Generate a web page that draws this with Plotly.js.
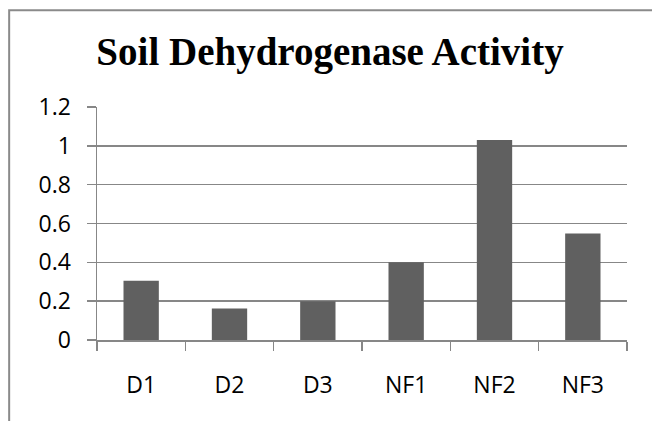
<!DOCTYPE html>
<html>
<head>
<meta charset="utf-8">
<script src="https://cdn.plot.ly/plotly-3.0.1.min.js"></script>
<style>
html,body{margin:0;padding:0;background:#fff;}
#chart{width:652px;height:421px;}
</style>
</head>
<body>
<div id="chart"></div>
<script>
var categories = ["D1", "D2", "D3", "NF1", "NF2", "NF3"];
var activity = [0.305, 0.162, 0.2, 0.4, 1.03, 0.548];
var yTicks = [0, 0.2, 0.4, 0.6, 0.8, 1, 1.2];
var chartTitle = "Soil Dehydrogenase Activity";

var L = 96.5, R = 627.5, T = 107, B = 340.5, W = 652, H = 421;
var pw = R - L, ph = B - T;
function px(x){ return (x - L) / pw; }
function py(y){ return (B - y) / ph; }

var gray = "#878787";
var tickFont = {family: "Open Sans, sans-serif", size: 23, color: "#000"};

Plotly.newPlot("chart", [{
  type: "bar",
  x: categories,
  y: activity,
  marker: {color: "#606060", line: {width: 0}},
  hoverinfo: "skip"
}], {
  width: W, height: H,
  margin: {l: L, r: W - R, t: T, b: H - B, pad: 0},
  paper_bgcolor: "#fff", plot_bgcolor: "#fff",
  showlegend: false,
  bargap: 0.6,
  title: {
    text: "<b>" + chartTitle + "</b>",
    font: {family: "Liberation Serif, serif", size: 39, color: "#000"},
    x: 330 / W, xanchor: "center", xref: "container",
    y: 1 - 51 / H, yanchor: "middle", yref: "container"
  },
  xaxis: {
    type: "category",
    showline: true, linecolor: gray, linewidth: 1.5,
    ticks: "outside", tickson: "boundaries", ticklen: 9, tickcolor: gray, tickwidth: 1.5,
    tickfont: tickFont,
    ticklabelstandoff: 24,
    showgrid: false, zeroline: false, fixedrange: true
  },
  yaxis: {
    range: [0, 1.2],
    tickvals: yTicks,
    showline: true, linecolor: gray, linewidth: 1.5,
    ticks: "outside", ticklen: 9, tickcolor: gray, tickwidth: 1.5,
    tickfont: tickFont,
    ticklabelstandoff: 11,
    showgrid: true, gridcolor: gray, gridwidth: 1.5,
    zeroline: false, fixedrange: true
  },
  shapes: [{
    type: "path", xref: "paper", yref: "paper",
    path: "M " + px(8.5) + "," + py(440) + " L " + px(8.5) + "," + py(10) + " L " + px(670) + "," + py(10),
    line: {color: "#8a8a8a", width: 2}
  }]
}, {staticPlot: true, displayModeBar: false});
</script>
</body>
</html>
